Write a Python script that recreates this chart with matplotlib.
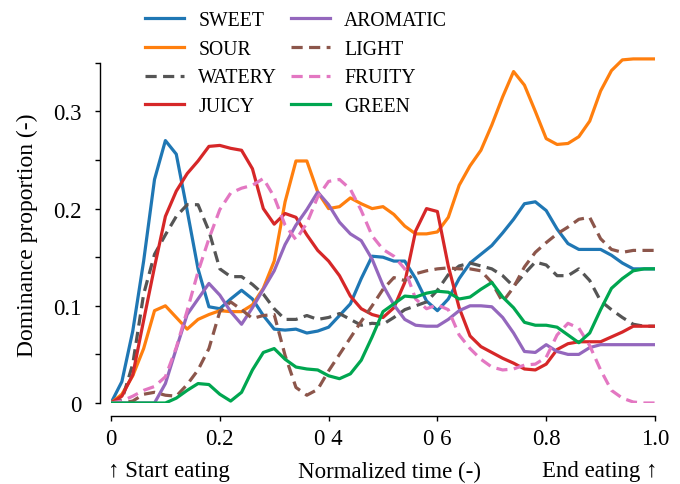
import matplotlib
matplotlib.use("Agg")
import matplotlib.pyplot as plt
import numpy as np

plt.rcParams['font.family'] = ['Liberation Serif', 'DejaVu Serif']

# normalized time, sampled every 0.02
time = np.linspace(0, 1, 51)

sweet = [0, 0.022, 0.074, 0.146, 0.23, 0.27, 0.256, 0.198, 0.138, 0.099, 0.097,
         0.107, 0.116, 0.107, 0.09, 0.076, 0.075, 0.076, 0.072, 0.074, 0.078,
         0.09, 0.102, 0.128, 0.151, 0.150, 0.146, 0.146, 0.128, 0.105, 0.095,
         0.107, 0.128, 0.144, 0.153, 0.162, 0.175, 0.189, 0.205, 0.207, 0.198,
         0.179, 0.164, 0.158, 0.158, 0.158, 0.152, 0.144, 0.138, 0.138, 0.138]
sour = [0, 0.009, 0.028, 0.056, 0.095, 0.1, 0.088, 0.076, 0.086, 0.091, 0.095,
        0.094, 0.094, 0.101, 0.118, 0.146, 0.207, 0.249, 0.249, 0.217, 0.2,
        0.202, 0.211, 0.205, 0.2, 0.202, 0.194, 0.182, 0.174, 0.174, 0.176,
        0.191, 0.224, 0.244, 0.26, 0.286, 0.315, 0.341, 0.327, 0.3, 0.272,
        0.266, 0.267, 0.274, 0.29, 0.321, 0.342, 0.353, 0.354, 0.354, 0.354]
watery = [0, 0.003, 0.04, 0.112, 0.153, 0.173, 0.192, 0.204, 0.204, 0.177, 0.138,
          0.13, 0.13, 0.122, 0.112, 0.097, 0.086, 0.086, 0.09, 0.086, 0.088,
          0.092, 0.086, 0.08, 0.082, 0.081, 0.088, 0.096, 0.1, 0.104, 0.116,
          0.132, 0.141, 0.144, 0.141, 0.138, 0.131, 0.12, 0.133, 0.145, 0.142,
          0.131, 0.131, 0.138, 0.126, 0.105, 0.096, 0.088, 0.081, 0.079, 0.079]
juicy = [0, 0.007, 0.029, 0.085, 0.14, 0.192, 0.218, 0.236, 0.249, 0.264, 0.265,
         0.262, 0.26, 0.241, 0.2, 0.184, 0.195, 0.191, 0.173, 0.157, 0.146,
         0.131, 0.11, 0.097, 0.091, 0.088, 0.098, 0.124, 0.177, 0.2, 0.197,
         0.141, 0.098, 0.069, 0.058, 0.052, 0.046, 0.041, 0.035, 0.034, 0.04,
         0.055, 0.061, 0.063, 0.063, 0.063, 0.068, 0.073, 0.079, 0.079, 0.079]
aromatic = [0, 0, 0, 0, 0, 0.02, 0.056, 0.091, 0.107, 0.123, 0.111,
            0.094, 0.081, 0.098, 0.117, 0.136, 0.163, 0.183, 0.199, 0.217, 0.204,
            0.186, 0.174, 0.167, 0.148, 0.121, 0.101, 0.086, 0.08, 0.079, 0.079,
            0.086, 0.095, 0.1, 0.1, 0.099, 0.088, 0.072, 0.053, 0.052, 0.06,
            0.053, 0.05, 0.05, 0.057, 0.06, 0.06, 0.06, 0.06, 0.06, 0.06]
light = [0, 0, 0.002, 0.009, 0.011, 0.008, 0.007, 0.019, 0.034, 0.056, 0.094,
         0.104, 0.096, 0.087, 0.09, 0.091, 0.049, 0.016, 0.008, 0.014, 0.033,
         0.05, 0.067, 0.084, 0.1, 0.117, 0.129, 0.126, 0.133, 0.136, 0.138,
         0.139, 0.138, 0.138, 0.136, 0.124, 0.104, 0.119, 0.14, 0.155, 0.165,
         0.174, 0.181, 0.189, 0.191, 0.169, 0.158, 0.155, 0.157, 0.157, 0.157]
fruity = [0, 0.002, 0.007, 0.013, 0.017, 0.027, 0.057, 0.095, 0.135, 0.169, 0.199,
          0.216, 0.221, 0.224, 0.231, 0.212, 0.183, 0.168, 0.185, 0.212, 0.228,
          0.23, 0.22, 0.198, 0.172, 0.158, 0.151, 0.138, 0.107, 0.097, 0.101,
          0.096, 0.07, 0.056, 0.045, 0.037, 0.034, 0.035, 0.039, 0.04, 0.047,
          0.07, 0.082, 0.077, 0.059, 0.034, 0.013, 0.005, 0.001, 0, 0]
green = [0, 0, 0, 0, 0, 0, 0.005, 0.013, 0.02, 0.019, 0.009,
         0.002, 0.011, 0.034, 0.052, 0.056, 0.045, 0.037, 0.035, 0.034, 0.028,
         0.025, 0.03, 0.044, 0.068, 0.094, 0.102, 0.11, 0.109, 0.113, 0.115,
         0.114, 0.107, 0.109, 0.117, 0.124, 0.109, 0.098, 0.083, 0.08, 0.08,
         0.078, 0.07, 0.062, 0.072, 0.096, 0.118, 0.128, 0.136, 0.138, 0.138]

series = [("SWEET", sweet, "#1f77b4", "-"),
          ("SOUR", sour, "#ff7f0e", "-"),
          ("WATERY", watery, "#555555", "--"),
          ("JUICY", juicy, "#d62728", "-"),
          ("AROMATIC", aromatic, "#9467bd", "-"),
          ("LIGHT", light, "#8c564b", "--"),
          ("FRUITY", fruity, "#e377c2", "--"),
          ("GREEN", green, "#00a650", "-")]

fig = plt.figure(figsize=(6.8, 4.85), dpi=100)
ax = fig.add_axes([111 / 680, 81 / 485, 544 / 680, 0.36 * 972 / 485])

for name, vals, col, ls in series:
    if ls == "--":
        ax.plot(time, vals, color=col, lw=2.3, dashes=(3.5, 2.0), label=name)
    else:
        ax.plot(time, vals, color=col, lw=2.3, label=name)

ax.set_xlim(0, 1)
ax.set_ylim(0, 0.36)

# spines pushed out (values in points: ~11 px left, ~13 px below)
ax.spines['top'].set_visible(False)
ax.spines['right'].set_visible(False)
ax.spines['left'].set_position(('outward', 7.9))
ax.spines['bottom'].set_position(('outward', 9.4))
ax.spines['left'].set_bounds(0, 0.35)
ax.spines['bottom'].set_bounds(0, 1)
for s in ['left', 'bottom']:
    ax.spines[s].set_linewidth(1.0)

ax.set_xticks([0, 0.2, 0.4, 0.6, 0.8, 1.0])
ax.set_xticklabels(["0", "0.2", "0 4", "0 6", "0.8", "1.0"])
ax.set_yticks([0, 0.05, 0.1, 0.15, 0.2, 0.25, 0.3, 0.35])
ax.set_yticklabels(["0", "", "0.1", "", "0.2", "", "0.3", ""])
ax.tick_params(direction='out', length=3.6, width=1, labelsize=16.5)
ax.tick_params(axis='x', pad=5)
ax.tick_params(axis='y', pad=10)

ax.legend(ncol=2, frameon=False, fontsize=14.2, loc='upper left',
          bbox_to_anchor=(0.2015, 0.992), bbox_transform=fig.transFigure,
          borderaxespad=0, handlelength=2.0, handletextpad=0.7,
          columnspacing=0.7, labelspacing=0.5)

fig.text(27.5 / 680, 1 - 235 / 485, "Dominance proportion (-)", rotation=90,
         ha='center', va='center', fontsize=17)
fig.text(108 / 680, 1 - 472 / 485, "\u2191 Start eating", ha='left', va='center', fontsize=16.5)
fig.text(390 / 680, 1 - 472 / 485, "Normalized time (-)", ha='center', va='center', fontsize=16.5)
fig.text(657 / 680, 1 - 472 / 485, "End eating \u2191", ha='right', va='center', fontsize=16.5)

fig.savefig("out.png", dpi=100)
